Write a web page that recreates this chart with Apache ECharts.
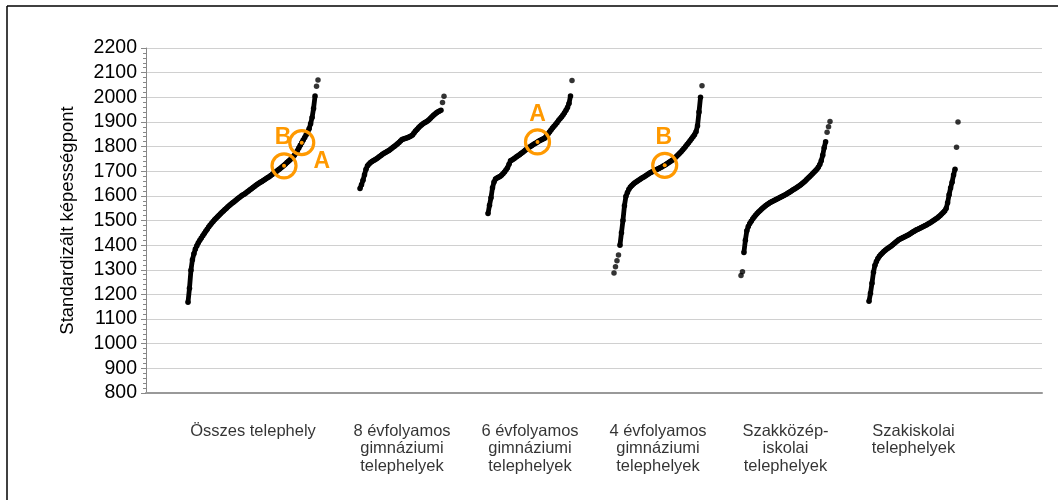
<!DOCTYPE html>
<html><head><meta charset="utf-8">
<script src="https://cdn.jsdelivr.net/npm/echarts@6.0.0/dist/echarts.min.js"></script>
<style>html,body{margin:0;padding:0;background:#fff}#c{width:1063px;height:500px}</style>
</head><body><div id="c"></div>
<script>
// ---- DATA ----
const categories = ["Összes telephely", "8 évfolyamos\ngimnáziumi\ntelephelyek", "6 évfolyamos\ngimnáziumi\ntelephelyek", "4 évfolyamos\ngimnáziumi\ntelephelyek", "Szakközép-\niskolai\ntelephelyek", "Szakiskolai\ntelephelyek"];
const yTickMin = 800, yTickMax = 2200, yTickStep = 100;

// sorted school scores per group (low outliers, main curve, high outliers)
const g1Low = [];
const g1Main = [1168,1225,1298,1341,1365,1384,1398,1410,1420,1429,1438,1447,1456,1465,1474,1482,1489,1496,1503,1509,1515,1521,1527,1533,1539,1545,1550,1556,1561,1566,1571,1575,1580,1585,1590,1594,1599,1603,1607,1611,1616,1620,1625,1629,1634,1638,1643,1647,1651,1655,1658,1662,1666,1670,1674,1678,1683,1687,1692,1696,1700,1705,1709,1714,1719,1724,1729,1735,1740,1746,1752,1758,1765,1773,1783,1794,1805,1816,1827,1837,1848,1859,1872,1893,1918,1955,2005];
const g1High = [2045,2070];

const g2Low = [];
const g2Main = [1630,1645,1663,1686,1708,1722,1729,1735,1739,1743,1747,1751,1755,1760,1764,1769,1773,1776,1780,1783,1787,1792,1797,1801,1806,1811,1817,1823,1829,1831,1833,1835,1837,1840,1843,1847,1855,1863,1869,1876,1882,1888,1893,1897,1900,1904,1909,1915,1921,1927,1932,1937,1941,1944,1947];
const g2High = [1979,2004];

const g3Low = [];
const g3Main = [1528,1562,1592,1633,1656,1668,1672,1676,1679,1684,1690,1697,1705,1714,1728,1742,1746,1750,1754,1759,1763,1767,1772,1776,1781,1786,1790,1795,1799,1803,1807,1811,1815,1819,1823,1826,1829,1832,1835,1843,1851,1859,1867,1875,1882,1890,1897,1906,1913,1920,1928,1937,1947,1959,1975,2005];
const g3High = [2068];

const g4Low = [1287,1312,1337,1360];
const g4Main = [1400,1450,1500,1560,1598,1614,1627,1636,1642,1648,1653,1657,1661,1665,1669,1673,1677,1681,1685,1689,1693,1696,1699,1702,1705,1708,1711,1714,1717,1721,1724,1728,1732,1736,1740,1744,1749,1755,1761,1767,1773,1779,1786,1793,1800,1808,1816,1824,1832,1840,1848,1860,1885,1940,2000];
const g4High = [2047];

const g5Low = [1277,1292];
const g5Main = [1370,1420,1458,1476,1488,1497,1506,1514,1521,1528,1534,1540,1546,1551,1556,1561,1565,1569,1573,1576,1579,1582,1585,1588,1591,1594,1597,1600,1603,1607,1611,1614,1618,1622,1626,1629,1633,1637,1641,1645,1650,1655,1660,1666,1672,1678,1684,1690,1696,1702,1708,1716,1727,1742,1765,1795,1820];
const g5High = [1858,1880,1902];

const g6Low = [];
const g6Main = [1172,1205,1245,1290,1318,1334,1346,1355,1362,1368,1374,1379,1384,1388,1392,1397,1402,1407,1412,1417,1422,1425,1428,1431,1434,1437,1440,1443,1447,1451,1455,1458,1462,1465,1468,1471,1474,1477,1480,1483,1487,1490,1494,1498,1502,1506,1510,1515,1520,1526,1532,1539,1549,1572,1605,1632,1655,1685,1708];
const g6High = [1797,1900];

// highlighted schools: group index, score, label
const markerGroups = [0, 0, 2, 3];
const markerValues = [1722, 1816, 1819, 1724];
const markerLabels = ["B", "A", "A", "B"];

// ---- LAYOUT / STYLE ----
const groupSpans = [[188,318],[360,444],[488,572],[614,702],[741,830],[869,958]];
const markerLabelOffsets = [[-1,-28],[20,19],[0,-27],[-1,-28]];
const ORANGE = '#FF9900';
const FONT = 'Liberation Sans, Arial, sans-serif';

const groups = [
  {low:g1Low, main:g1Main, high:g1High},
  {low:g2Low, main:g2Main, high:g2High},
  {low:g3Low, main:g3Main, high:g3High},
  {low:g4Low, main:g4Main, high:g4High},
  {low:g5Low, main:g5Main, high:g5High},
  {low:g6Low, main:g6Main, high:g6High}
];

const series = [];
const seqPts = [];
groups.forEach((g, gi) => {
  const seq = g.low.concat(g.main, g.high);
  const [a, b] = groupSpans[gi];
  const step = (b - a) / (seq.length - 1);
  const pts = seq.map((v, i) => [a + i * step, v]);
  seqPts.push(pts);
  const mainPts = pts.slice(g.low.length, g.low.length + g.main.length);
  const outPts = pts.slice(0, g.low.length).concat(pts.slice(g.low.length + g.main.length));
  series.push({
    type: 'line', data: mainPts, smooth: false,
    lineStyle: {color: '#000', width: 4.8}, symbol: 'circle', symbolSize: 5.5,
    itemStyle: {color: '#000'}, z: 2, silent: true
  });
  if (outPts.length) series.push({
    type: 'scatter', data: outPts, symbol: 'circle', symbolSize: 5.5,
    itemStyle: {color: '#000'}, z: 2, silent: true
  });
});

// category labels under the axis
series.push({
  type: 'scatter', silent: true, symbolSize: 1, itemStyle: {color: 'rgba(0,0,0,0)'},
  data: categories.map((c, i) => ({value: [(groupSpans[i][0] + groupSpans[i][1]) / 2, yTickMin], name: c})),
  label: {show: true, position: 'bottom', distance: 29, formatter: p => p.name,
    fontFamily: FONT, fontSize: 16.5, lineHeight: 17.5, color: '#000', align: 'center'},
  clip: false, z: 3
});

// highlight circles
const markerPts = markerValues.map((v, k) => {
  const pts = seqPts[markerGroups[k]];
  let best = 0;
  pts.forEach((p, i) => { if (Math.abs(p[1] - v) < Math.abs(pts[best][1] - v)) best = i; });
  return [pts[best][0], v];
});
series.push({
  type: 'scatter', silent: true, symbol: 'circle', symbolSize: 24,
  itemStyle: {color: 'rgba(0,0,0,0)', borderColor: ORANGE, borderWidth: 3.2, opacity: 1},
  data: markerPts.map((p, k) => ({value: p, name: markerLabels[k],
    label: {offset: markerLabelOffsets[k]}})),
  label: {show: true, position: 'inside', formatter: p => p.name, color: ORANGE,
    fontSize: 23, fontWeight: 'bold', fontFamily: FONT},
  z: 5
});
series.push({
  type: 'scatter', silent: true, symbol: 'circle', symbolSize: 4,
  itemStyle: {color: ORANGE, opacity: 1}, data: markerPts, z: 6
});

const chart = echarts.init(document.getElementById('c'), null, {renderer: 'canvas'});
chart.setOption({
  animation: false,
  backgroundColor: '#fff',
  grid: {left: 146, right: 21, top: 48, bottom: 107, containLabel: false},
  xAxis: {
    type: 'value', min: 146, max: 1042,
    axisLine: {show: true, onZero: false, lineStyle: {color: '#999', width: 2}},
    axisTick: {show: false}, axisLabel: {show: false}, splitLine: {show: false}
  },
  yAxis: {
    type: 'value', min: yTickMin, max: yTickMax, interval: yTickStep,
    name: 'Standardizált képességpont', nameLocation: 'middle', nameGap: 69, nameRotate: 90,
    nameTextStyle: {fontFamily: FONT, fontSize: 18.5, color: '#000'},
    axisLine: {show: true, lineStyle: {color: '#888', width: 1}},
    axisTick: {show: true, length: 5, lineStyle: {color: '#888'}},
    minorTick: {show: true, splitNumber: 5, length: 3, lineStyle: {color: '#888'}},
    axisLabel: {fontFamily: FONT, fontSize: 19.5, color: '#000', margin: 9, formatter: v => String(v)},
    splitLine: {show: true, lineStyle: {color: '#d0d0d0', width: 1}}
  },
  graphic: [
    {type: 'line', shape: {x1: 7, y1: 6, x2: 1058, y2: 6}, style: {stroke: '#000', lineWidth: 1.5}},
    {type: 'line', shape: {x1: 7, y1: 6, x2: 7, y2: 500}, style: {stroke: '#000', lineWidth: 1.5}}
  ],
  series: series
});
</script></body></html>
